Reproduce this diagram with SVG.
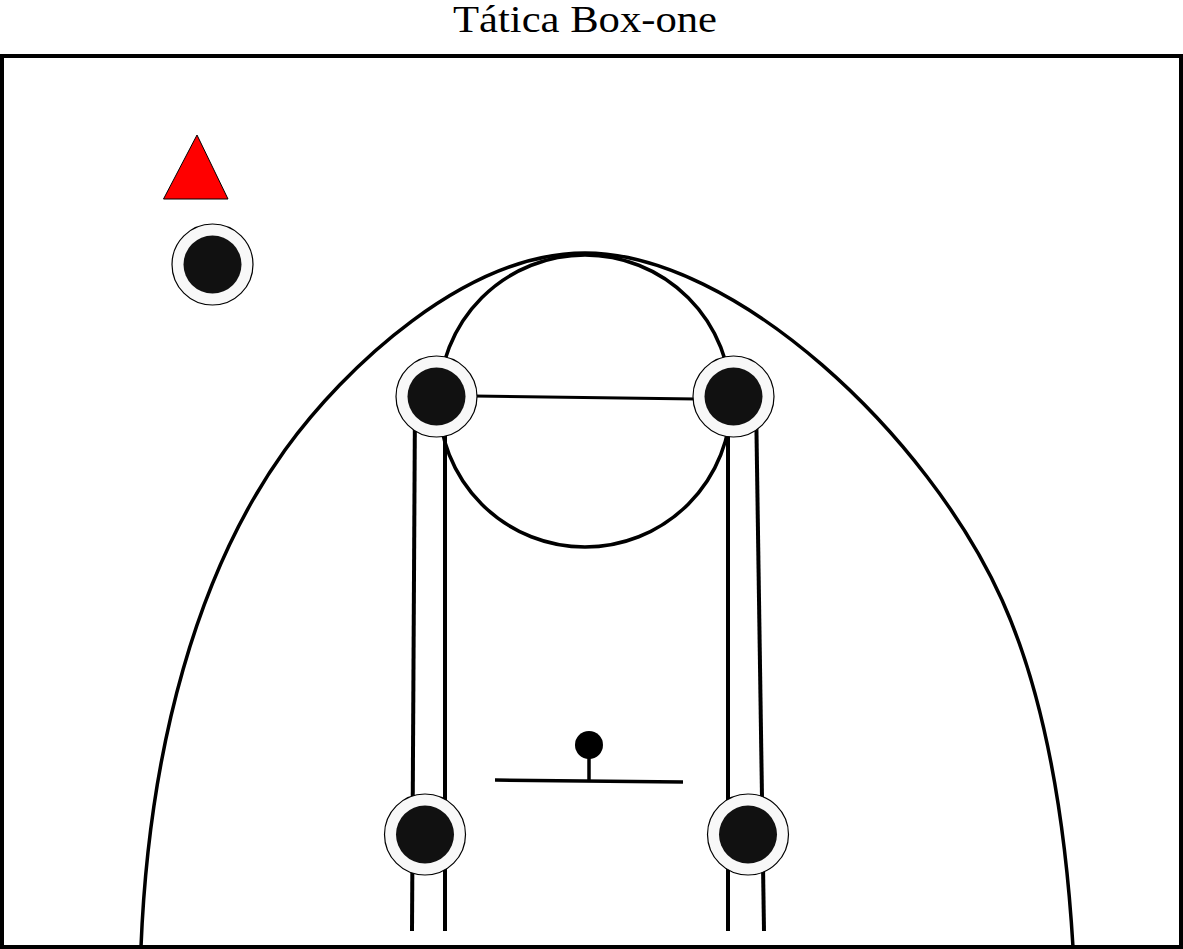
<svg xmlns="http://www.w3.org/2000/svg" width="1183" height="949" viewBox="0 0 1183 949">
  <style>
    .line { fill: none; stroke: #000; stroke-linecap: butt; }
    .court { stroke-width: 3.5; }
    .lane { stroke-width: 4; }
    .outer { fill: #f8f8f8; stroke: #000; stroke-width: 1.2; }
    .inner { fill: #111; }
    .title { font-family: "Liberation Serif", "Times New Roman", serif; font-size: 37px; fill: #000; }
  </style>
  <defs>
    <g id="player">
      <circle class="outer" r="40.5"/>
      <circle class="inner" r="29"/>
    </g>
  </defs>
  <rect width="1183" height="949" fill="#fff"/>
  <text class="title" x="585" y="32" text-anchor="middle" textLength="264" lengthAdjust="spacingAndGlyphs">Tática Box-one</text>

  <g id="court">
    <rect x="2" y="56" width="1179" height="891" fill="#fff" stroke="#000" stroke-width="4"/>
    <path class="line court" d="M141,947 C149,747 197.4,571.8 285,450 C343.4,368.8 465,253 585,253 C735,253 928.2,435.8 1002,600 C1047.1,700.3 1065.8,827 1073,947"/>
    <circle class="line court" cx="585" cy="401" r="146"/>
  </g>

  <g id="connectors">
    <line class="line lane" x1="415" y1="400" x2="412" y2="931"/>
    <line class="line lane" x1="445" y1="400" x2="445" y2="931"/>
    <line class="line lane" x1="728" y1="400" x2="728" y2="931"/>
    <line class="line lane" x1="756" y1="400" x2="764" y2="931"/>
    <line class="line" stroke-width="3" x1="437" y1="395.5" x2="734" y2="399.5"/>
  </g>

  <g id="basket">
    <line class="line court" x1="495" y1="780" x2="683" y2="782"/>
    <line class="line court" x1="589" y1="755" x2="589" y2="781"/>
    <circle cx="589" cy="745" r="14" fill="#000"/>
  </g>

  <g id="marker-triangle">
    <polygon points="197,135 163.5,199 228,199" fill="#ff0000" stroke="#000" stroke-width="1"/>
  </g>

  <g id="player-top-left"><use href="#player" x="212.5" y="264.5"/></g>
  <g id="player-elbow-left"><use href="#player" x="436.5" y="396.5"/></g>
  <g id="player-elbow-right"><use href="#player" x="733.5" y="396.5"/></g>
  <g id="player-block-left"><use href="#player" x="425" y="834.5"/></g>
  <g id="player-block-right"><use href="#player" x="748" y="834.5"/></g>
</svg>
